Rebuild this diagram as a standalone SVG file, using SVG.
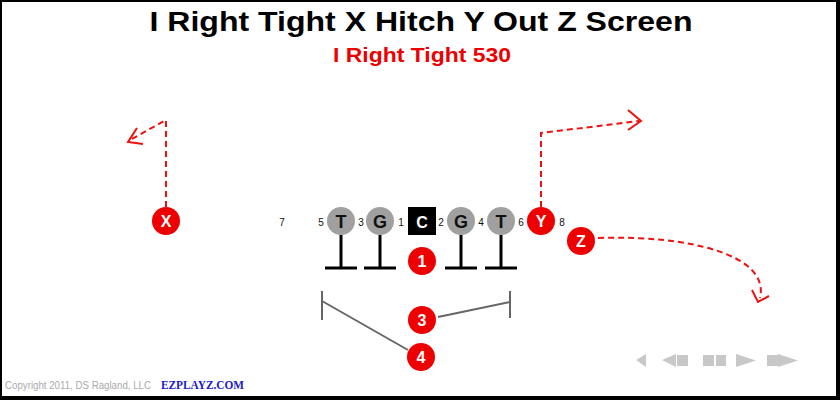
<svg xmlns="http://www.w3.org/2000/svg" width="840" height="400" viewBox="0 0 840 400">
<defs>
<style>
.red{fill:#ee0000}
.gray{fill:#a0a0a0}
.wl{font-family:"Liberation Sans",Arial,sans-serif;font-weight:bold;font-size:16px;fill:#fff;text-anchor:middle}
.bl{font-family:"Liberation Sans",Arial,sans-serif;font-weight:bold;font-size:18px;fill:#111;text-anchor:middle}
.num{font-family:"Liberation Sans",Arial,sans-serif;font-size:10px;fill:#111;text-anchor:middle}
.route{fill:none;stroke:#e11;stroke-width:2;stroke-dasharray:6,4}
.head{fill:none;stroke:#e11;stroke-width:2}
.blk{fill:none;stroke:#000;stroke-width:3}
.brk{fill:none;stroke:#666;stroke-width:2}
.nav{fill:#c8c8c8}
</style>
</defs>
<rect x="0" y="0" width="840" height="400" fill="#000"/>
<rect x="2" y="2" width="834" height="394" fill="#fff"/>
<text x="421" y="31" font-family="'Liberation Sans',Arial,sans-serif" font-weight="bold" font-size="27" text-anchor="middle" textLength="543" lengthAdjust="spacingAndGlyphs" fill="#000">I Right Tight X Hitch Y Out Z Screen</text>
<text x="422" y="62" font-family="'Liberation Sans',Arial,sans-serif" font-weight="bold" font-size="20" text-anchor="middle" textLength="178" lengthAdjust="spacingAndGlyphs" fill="#ee0000">I Right Tight 530</text>

<g id="connectors">
<path class="route" d="M166,207 V120 L130,140"/>
<path class="head" d="M137,128 L128,142 L143,144"/>
<path class="route" d="M541,207 V133 L639,121"/>
<path class="head" d="M628,110 L641,121 L628,130"/>
<path class="route" d="M598,238 C690,235 770,255 760,298"/>
<path class="head" d="M752,290 L758,302 L769,296"/>
<path class="blk" d="M341,235 V268 M325,268 H357"/>
<path class="blk" d="M380,235 V268 M364,268 H396"/>
<path class="blk" d="M461,235 V268 M445,268 H477"/>
<path class="blk" d="M501,235 V268 M485,268 H517"/>
<path class="brk" d="M322,291 V320 M322,301 L408,350"/>
<path class="brk" d="M510,291 V318 M510,302 L438,317"/>
</g>

<g id="n-7"><text class="num" x="282" y="226">7</text></g>
<g id="n-5"><text class="num" x="321" y="226">5</text></g>
<g id="n-3"><text class="num" x="361" y="226">3</text></g>
<g id="n-1"><text class="num" x="401" y="226">1</text></g>
<g id="n-2"><text class="num" x="441" y="226">2</text></g>
<g id="n-4"><text class="num" x="481" y="226">4</text></g>
<g id="n-6"><text class="num" x="521" y="226">6</text></g>
<g id="n-8"><text class="num" x="562" y="226">8</text></g>

<g id="X"><circle class="red" cx="166" cy="221" r="14"/><text class="wl" x="166" y="227">X</text></g>
<g id="LT"><circle class="gray" cx="341" cy="221" r="14"/><text class="bl" x="341" y="227.5">T</text></g>
<g id="LG"><circle class="gray" cx="380" cy="221" r="14"/><text class="bl" x="380" y="227.5">G</text></g>
<g id="C"><rect x="408" y="207" width="28" height="28" fill="#000"/><text class="wl" x="422" y="227.5" font-size="18">C</text></g>
<g id="RG"><circle class="gray" cx="461" cy="221" r="14"/><text class="bl" x="461" y="227.5">G</text></g>
<g id="RT"><circle class="gray" cx="501" cy="221" r="14"/><text class="bl" x="501" y="227.5">T</text></g>
<g id="Y"><circle class="red" cx="541" cy="221" r="14"/><text class="wl" x="541" y="227">Y</text></g>
<g id="Z"><circle class="red" cx="581" cy="241" r="14"/><text class="wl" x="581" y="247">Z</text></g>
<g id="B1"><circle class="red" cx="422" cy="261" r="14"/><text class="wl" x="422" y="267">1</text></g>
<g id="B3"><circle class="red" cx="422" cy="320" r="14"/><text class="wl" x="422" y="326">3</text></g>
<g id="B4"><circle class="red" cx="421" cy="357" r="14"/><text class="wl" x="421" y="363">4</text></g>

<g id="nav">
<polygon class="nav" points="636,360 646,354 646,367"/>
<polygon class="nav" points="662,360 676,354 676,367"/>
<rect class="nav" x="677" y="355" width="11" height="11"/>
<rect class="nav" x="703" y="355" width="11" height="11"/>
<rect class="nav" x="716" y="355" width="10" height="11"/>
<polygon class="nav" points="736,354 756,360.5 736,367"/>
<rect class="nav" x="767" y="355" width="11" height="11"/>
<polygon class="nav" points="778,354 798,360.5 778,367"/>
</g>

<text x="5" y="389" font-family="'Liberation Sans',Arial,sans-serif" font-size="11" fill="#aaa" textLength="146" lengthAdjust="spacingAndGlyphs">Copyright 2011, DS Ragland, LLC</text>
<text x="161" y="389" font-family="'Liberation Serif','Times New Roman',serif" font-weight="bold" font-size="12" fill="#1a1acc" textLength="83" lengthAdjust="spacingAndGlyphs">EZPLAYZ.COM</text>
</svg>
